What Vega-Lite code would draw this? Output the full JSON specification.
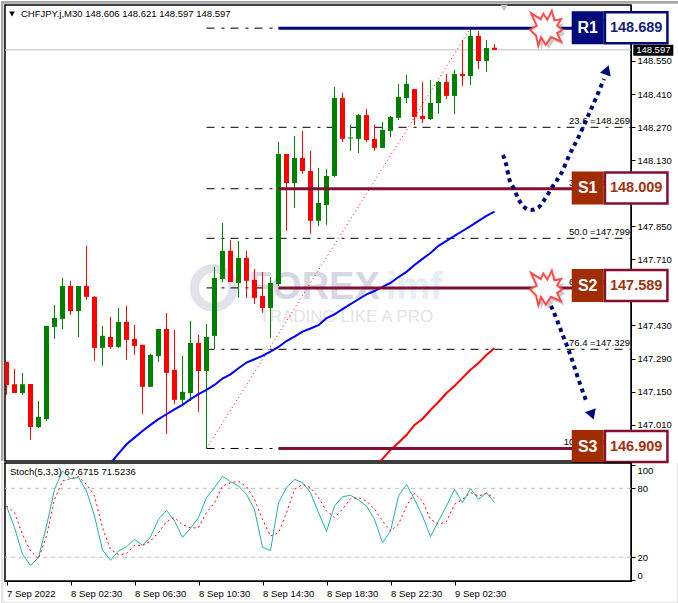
{
  "$schema": "https://vega.github.io/schema/vega-lite/v6.json",
  "description": "CHFJPY.j M30 candles with fibonacci levels, support and resistance boxes and a stochastic panel",
  "background": "#ffffff",
  "padding": 0,
  "spacing": 2,
  "bounds": "flush",
  "config": {
    "view": {"stroke": "#000000", "strokeWidth": 1.5},
    "font": "Liberation Sans",
    "scale": {"continuousPadding": 0},
    "axis": {"labelFont": "Liberation Sans", "labelFontSize": 9.5, "labelColor": "#000000", "domainColor": "#000000", "tickColor": "#000000", "grid": false, "title": null}
  },
  "datasets": {
    "candles": [
      {"bar":0,"open":147.276,"high":147.276,"low":147.136,"close":147.178},
      {"bar":1,"open":147.181,"high":147.246,"low":147.144,"close":147.144},
      {"bar":2,"open":147.144,"high":147.229,"low":147.136,"close":147.181},
      {"bar":3,"open":147.182,"high":147.182,"low":146.945,"close":147.000},
      {"bar":4,"open":147.000,"high":147.110,"low":146.996,"close":147.043},
      {"bar":5,"open":147.034,"high":147.428,"low":147.026,"close":147.428},
      {"bar":6,"open":147.424,"high":147.517,"low":147.373,"close":147.462},
      {"bar":7,"open":147.458,"high":147.631,"low":147.415,"close":147.597},
      {"bar":8,"open":147.597,"high":147.619,"low":147.475,"close":147.491},
      {"bar":9,"open":147.491,"high":147.597,"low":147.381,"close":147.597},
      {"bar":10,"open":147.597,"high":147.767,"low":147.538,"close":147.551},
      {"bar":11,"open":147.551,"high":147.555,"low":147.280,"close":147.335},
      {"bar":12,"open":147.335,"high":147.428,"low":147.259,"close":147.386},
      {"bar":13,"open":147.381,"high":147.466,"low":147.331,"close":147.339},
      {"bar":14,"open":147.339,"high":147.504,"low":147.335,"close":147.445},
      {"bar":15,"open":147.445,"high":147.513,"low":147.284,"close":147.369},
      {"bar":16,"open":147.373,"high":147.432,"low":147.305,"close":147.343},
      {"bar":17,"open":147.348,"high":147.348,"low":147.055,"close":147.170},
      {"bar":18,"open":147.170,"high":147.309,"low":147.170,"close":147.305},
      {"bar":19,"open":147.301,"high":147.415,"low":147.276,"close":147.415},
      {"bar":20,"open":147.415,"high":147.483,"low":146.971,"close":147.229},
      {"bar":21,"open":147.242,"high":147.411,"low":147.098,"close":147.115},
      {"bar":22,"open":147.115,"high":147.301,"low":147.094,"close":147.149},
      {"bar":23,"open":147.144,"high":147.449,"low":147.110,"close":147.356},
      {"bar":24,"open":147.356,"high":147.390,"low":147.064,"close":147.237},
      {"bar":25,"open":147.237,"high":147.436,"low":146.909,"close":147.381},
      {"bar":26,"open":147.386,"high":147.678,"low":147.331,"close":147.631},
      {"bar":27,"open":147.627,"high":147.864,"low":147.614,"close":147.746},
      {"bar":28,"open":147.746,"high":147.792,"low":147.614,"close":147.614},
      {"bar":29,"open":147.610,"high":147.788,"low":147.547,"close":147.716},
      {"bar":30,"open":147.716,"high":147.746,"low":147.547,"close":147.619},
      {"bar":31,"open":147.623,"high":147.669,"low":147.521,"close":147.547},
      {"bar":32,"open":147.555,"high":147.657,"low":147.483,"close":147.504},
      {"bar":33,"open":147.504,"high":147.635,"low":147.377,"close":147.610},
      {"bar":34,"open":147.606,"high":148.207,"low":147.597,"close":148.156},
      {"bar":35,"open":148.156,"high":148.156,"low":147.830,"close":148.033},
      {"bar":36,"open":148.033,"high":148.232,"low":147.928,"close":148.139},
      {"bar":37,"open":148.139,"high":148.254,"low":148.072,"close":148.084},
      {"bar":38,"open":148.084,"high":148.169,"low":147.818,"close":147.873},
      {"bar":39,"open":147.873,"high":148.097,"low":147.851,"close":147.949},
      {"bar":40,"open":147.940,"high":148.093,"low":147.856,"close":148.063},
      {"bar":41,"open":148.063,"high":148.440,"low":148.059,"close":148.393},
      {"bar":42,"open":148.393,"high":148.415,"low":148.207,"close":148.220},
      {"bar":43,"open":148.222,"high":148.279,"low":148.169,"close":148.226},
      {"bar":44,"open":148.220,"high":148.326,"low":148.160,"close":148.321},
      {"bar":45,"open":148.321,"high":148.347,"low":148.207,"close":148.215},
      {"bar":46,"open":148.220,"high":148.279,"low":148.169,"close":148.182},
      {"bar":47,"open":148.182,"high":148.292,"low":148.182,"close":148.258},
      {"bar":48,"open":148.254,"high":148.317,"low":148.228,"close":148.313},
      {"bar":49,"open":148.309,"high":148.453,"low":148.300,"close":148.398},
      {"bar":50,"open":148.393,"high":148.491,"low":148.372,"close":148.453},
      {"bar":51,"open":148.431,"high":148.431,"low":148.279,"close":148.313},
      {"bar":52,"open":148.317,"high":148.461,"low":148.287,"close":148.304},
      {"bar":53,"open":148.304,"high":148.470,"low":148.300,"close":148.372},
      {"bar":54,"open":148.372,"high":148.465,"low":148.326,"close":148.461},
      {"bar":55,"open":148.461,"high":148.495,"low":148.389,"close":148.402},
      {"bar":56,"open":148.402,"high":148.512,"low":148.326,"close":148.495},
      {"bar":57,"open":148.495,"high":148.639,"low":148.444,"close":148.486},
      {"bar":58,"open":148.486,"high":148.689,"low":148.448,"close":148.656},
      {"bar":59,"open":148.656,"high":148.677,"low":148.516,"close":148.550},
      {"bar":60,"open":148.550,"high":148.639,"low":148.503,"close":148.605},
      {"bar":61,"open":148.606,"high":148.621,"low":148.597,"close":148.597}
    ],
    "blueMa": [
      {"bar":13,"price":146.847},{"bar":14,"price":146.887},{"bar":15,"price":146.927},{"bar":16,"price":146.955},
      {"bar":17,"price":146.983},{"bar":18,"price":147.009},{"bar":19,"price":147.033},{"bar":20,"price":147.054},
      {"bar":21,"price":147.075},{"bar":22,"price":147.094},{"bar":23,"price":147.118},{"bar":24,"price":147.139},
      {"bar":25,"price":147.157},{"bar":26,"price":147.178},{"bar":27,"price":147.205},{"bar":28,"price":147.223},
      {"bar":29,"price":147.249},{"bar":30,"price":147.273},{"bar":31,"price":147.287},{"bar":32,"price":147.301},
      {"bar":33,"price":147.319},{"bar":34,"price":147.339},{"bar":35,"price":147.364},{"bar":36,"price":147.383},
      {"bar":37,"price":147.404},{"bar":38,"price":147.417},{"bar":39,"price":147.431},{"bar":40,"price":147.461},
      {"bar":41,"price":147.477},{"bar":42,"price":147.499},{"bar":43,"price":147.520},{"bar":44,"price":147.541},
      {"bar":45,"price":147.562},{"bar":46,"price":147.576},{"bar":47,"price":147.593},{"bar":48,"price":147.610},
      {"bar":49,"price":147.635},{"bar":50,"price":147.657},{"bar":51,"price":147.686},{"bar":52,"price":147.712},
      {"bar":53,"price":147.737},{"bar":54,"price":147.767},{"bar":55,"price":147.788},{"bar":56,"price":147.809},
      {"bar":57,"price":147.830},{"bar":58,"price":147.851},{"bar":59,"price":147.873},{"bar":60,"price":147.894},
      {"bar":61,"price":147.912}
    ],
    "redMa": [
      {"bar":46,"price":146.835},{"bar":47,"price":146.865},{"bar":48,"price":146.903},{"bar":49,"price":146.933},
      {"bar":50,"price":146.966},{"bar":51,"price":147.009},{"bar":52,"price":147.034},{"bar":53,"price":147.072},
      {"bar":54,"price":147.106},{"bar":55,"price":147.144},{"bar":56,"price":147.174},{"bar":57,"price":147.208},
      {"bar":58,"price":147.242},{"bar":59,"price":147.271},{"bar":60,"price":147.305},{"bar":61,"price":147.335}
    ],
    "fib": [
      {"note":"0.0 =148.689","price":148.689,"from":25,"to":78.0625,"noteBar":77.94},
      {"note":"23.6 =148.269","price":148.269,"from":25,"to":78.0625,"noteBar":77.94},
      {"note":"38.2 =148.009","price":148.009,"from":25,"to":78.0625,"noteBar":77.94},
      {"note":"50.0 =147.799","price":147.799,"from":25,"to":78.0625,"noteBar":77.94},
      {"note":"61.8 =147.589","price":147.589,"from":25,"to":78.0625,"noteBar":77.94},
      {"note":"76.4 =147.329","price":147.329,"from":25,"to":78.0625,"noteBar":77.94},
      {"note":"100.0 =146.909","price":146.909,"from":25,"to":78.0625,"noteBar":77.94}
    ],
    "fibTrend": [{"bar":25,"price":146.909},{"bar":58,"price":148.689}],
    "levels": [
      {"name":"R1","kind":"resistance","price":148.689,"boxPrice":148.691,"value":"148.689","from":34,"to":72,"nameBar":72.65,"valueBar":78.71},
      {"name":"S1","kind":"support","price":148.009,"boxPrice":148.012,"value":"148.009","from":34,"to":72,"nameBar":72.65,"valueBar":78.71},
      {"name":"S2","kind":"support","price":147.589,"boxPrice":147.599,"value":"147.589","from":34,"to":72,"nameBar":72.65,"valueBar":78.71},
      {"name":"S3","kind":"support","price":146.909,"boxPrice":146.917,"value":"146.909","from":34,"to":72,"nameBar":72.65,"valueBar":78.71}
    ],
    "bursts": [{"bar":67.4,"price":148.689},{"bar":67.4,"price":147.589}],
    "arrowUp": [
      {"bar":62.06,"price":148.152},{"bar":62.44,"price":148.114},{"bar":62.81,"price":148.055},{"bar":63.44,"price":148.008},
      {"bar":64.06,"price":147.961},{"bar":64.69,"price":147.932},{"bar":65.56,"price":147.919},{"bar":66.44,"price":147.928},
      {"bar":67.31,"price":147.966},{"bar":68.31,"price":148.021},{"bar":69.31,"price":148.072},{"bar":70.31,"price":148.148},
      {"bar":71.56,"price":148.232},{"bar":72.69,"price":148.317},{"bar":73.69,"price":148.393},{"bar":74.69,"price":148.474}
    ],
    "arrowDown": [
      {"bar":68.06,"price":147.513},{"bar":68.81,"price":147.453},{"bar":69.56,"price":147.386},{"bar":70.31,"price":147.322},
      {"bar":70.94,"price":147.259},{"bar":71.56,"price":147.195},{"bar":72.56,"price":147.102}
    ],
    "stoch": [
      {"bar":0,"main":64.6,"signal":64.6},{"bar":1,"main":45.8,"signal":58.8},{"bar":2,"main":22.6,"signal":40.0},{"bar":3,"main":13.0,"signal":25.5},
      {"bar":4,"main":19.7,"signal":18.8},{"bar":5,"main":47.2,"signal":38.5},{"bar":6,"main":79.1,"signal":70.4},{"bar":7,"main":95.1,"signal":86.4},
      {"bar":8,"main":88.4,"signal":88.4},{"bar":9,"main":89.3,"signal":90.1},{"bar":10,"main":77.7,"signal":83.4},{"bar":11,"main":55.9,"signal":73.3},
      {"bar":12,"main":26.3,"signal":45.8},{"bar":13,"main":17.4,"signal":26.9},{"bar":14,"main":25.5,"signal":22.3},{"bar":15,"main":29.2,"signal":23.2},
      {"bar":16,"main":35.6,"signal":30.4},{"bar":17,"main":30.4,"signal":30.4},{"bar":18,"main":37.7,"signal":34.2},{"bar":19,"main":53.0,"signal":41.4},
      {"bar":20,"main":60.8,"signal":51.0},{"bar":21,"main":51.6,"signal":54.5},{"bar":22,"main":37.4,"signal":48.4},{"bar":23,"main":45.2,"signal":45.5},
      {"bar":24,"main":54.5,"signal":45.8},{"bar":25,"main":71.9,"signal":58.8},{"bar":26,"main":80.6,"signal":67.5},{"bar":27,"main":90.4,"signal":82.0},
      {"bar":28,"main":85.8,"signal":84.9},{"bar":29,"main":82.0,"signal":86.1},{"bar":30,"main":74.8,"signal":81.4},{"bar":31,"main":61.7,"signal":70.4},
      {"bar":32,"main":28.7,"signal":53.0},{"bar":33,"main":25.8,"signal":38.5},{"bar":34,"main":67.5,"signal":41.4},{"bar":35,"main":80.6,"signal":58.8},
      {"bar":36,"main":87.8,"signal":79.1},{"bar":37,"main":84.9,"signal":83.4},{"bar":38,"main":76.2,"signal":80.6},{"bar":39,"main":58.8,"signal":71.9},
      {"bar":40,"main":42.6,"signal":60.3},{"bar":41,"main":64.6,"signal":54.5},{"bar":42,"main":72.7,"signal":61.7},{"bar":43,"main":73.9,"signal":71.0},
      {"bar":44,"main":69.8,"signal":71.9},{"bar":45,"main":64.6,"signal":69.0},{"bar":46,"main":53.0,"signal":61.7},{"bar":47,"main":32.7,"signal":51.6},
      {"bar":48,"main":42.9,"signal":42.9},{"bar":49,"main":73.3,"signal":48.7},{"bar":50,"main":83.4,"signal":64.6},{"bar":51,"main":70.4,"signal":75.6},
      {"bar":52,"main":55.9,"signal":69.0},{"bar":53,"main":38.0,"signal":53.0},{"bar":54,"main":51.6,"signal":48.7},{"bar":55,"main":64.6,"signal":51.0},
      {"bar":56,"main":79.1,"signal":66.1},{"bar":57,"main":67.5,"signal":70.4},{"bar":58,"main":79.7,"signal":76.2},{"bar":59,"main":70.4,"signal":73.3},
      {"bar":60,"main":76.2,"signal":75.6},{"bar":61,"main":67.67,"signal":71.52}
    ]
  },
  "vconcat": [
    {
      "width": 626,
      "height": 456,
      "resolve": {"axis": {"x": "independent", "y": "independent"}, "scale": {"color": "independent"}},
      "encoding": {
        "x": {"field": "bar", "type": "quantitative", "scale": {"domain": [-0.1875, 78.0625], "nice": false, "zero": false, "padding": 0}, "axis": null}
      },
      "layer": [
        {
          "data": {"values": [{"x0":-0.6875,"x1":-0.375,"top":148.804,"bottom":146.856},{"x0":-0.6875,"x1":84.0625,"top":148.804,"bottom":148.792}]},
          "mark": {"type": "rect", "color": "#a8a8a8"},
          "encoding": {
            "x": {"field": "x0", "type": "quantitative", "scale": {"domain": [-0.1875, 78.0625]}, "axis": null},
            "x2": {"field": "x1"},
            "y": {"field": "top", "type": "quantitative", "scale": {"domain": [146.856, 148.787], "nice": false, "zero": false, "padding": 0}, "axis": {"orient": "right", "values": [148.55,148.41,148.27,148.13,147.85,147.71,147.43,147.29,147.15,147.01], "format": ".3f", "tickSize": 4, "labelPadding": 2}},
            "y2": {"field": "bottom"}
          }
        },
        {
          "data": {"values": [{"bar":25.9,"price":147.589}]},
          "mark": {"type": "point", "shape": "circle", "size": 1500, "filled": false, "stroke": "#d6d7e2", "strokeWidth": 9},
          "encoding": {"y": {"field": "price", "type": "quantitative", "scale": {"domain": [146.856, 148.787]}, "axis": null}}
        },
        {
          "data": {"values": [{"bar":30.3,"price":147.588,"word":"FOREX"}]},
          "mark": {"type": "text", "font": "Liberation Sans", "fontWeight": "bold", "fontSize": 38, "align": "left", "color": "#d6d7e2"},
          "encoding": {"y": {"field": "price", "type": "quantitative", "scale": {"domain": [146.856, 148.787]}, "axis": null}, "text": {"field": "word"}}
        },
        {
          "data": {"values": [{"bar":47.4,"price":147.588,"word":"imf"}]},
          "mark": {"type": "text", "font": "Liberation Sans", "fontWeight": "bold", "fontSize": 38, "align": "left", "color": "#e6eef5"},
          "encoding": {"y": {"field": "price", "type": "quantitative", "scale": {"domain": [146.856, 148.787]}, "axis": null}, "text": {"field": "word"}}
        },
        {
          "data": {"values": [{"bar":31.6,"price":147.467,"word":"TRADING LIKE A PRO"}]},
          "mark": {"type": "text", "font": "Liberation Sans", "fontSize": 17, "align": "left", "color": "#e3e3e8"},
          "encoding": {"y": {"field": "price", "type": "quantitative", "scale": {"domain": [146.856, 148.787]}, "axis": null}, "text": {"field": "word"}}
        },
        {
          "data": {"values": [{"price":148.597}]},
          "mark": {"type": "rule", "color": "#c0c0c0", "strokeWidth": 1},
          "encoding": {"x": null, "y": {"field": "price", "type": "quantitative", "scale": {"domain": [146.856, 148.787]}, "axis": null}}
        },
        {
          "data": {"name": "fib"},
          "mark": {"type": "rule", "color": "#000000", "strokeWidth": 1, "strokeDash": [8, 7, 3, 6]},
          "encoding": {
            "x": {"field": "from", "type": "quantitative", "scale": {"domain": [-0.1875, 78.0625]}, "axis": null},
            "x2": {"field": "to"},
            "y": {"field": "price", "type": "quantitative", "scale": {"domain": [146.856, 148.787]}, "axis": null}
          }
        },
        {
          "data": {"name": "fib"},
          "mark": {"type": "text", "align": "right", "baseline": "bottom", "dy": -1, "fontSize": 9.5, "color": "#000000"},
          "encoding": {
            "x": {"field": "noteBar", "type": "quantitative", "scale": {"domain": [-0.1875, 78.0625]}, "axis": null},
            "y": {"field": "price", "type": "quantitative", "scale": {"domain": [146.856, 148.787]}, "axis": null},
            "text": {"field": "note"}
          }
        },
        {
          "data": {"name": "fibTrend"},
          "mark": {"type": "line", "color": "#ff0000", "strokeWidth": 1, "strokeDash": [1, 3]},
          "encoding": {"y": {"field": "price", "type": "quantitative", "scale": {"domain": [146.856, 148.787]}, "axis": null}}
        },
        {
          "data": {"name": "candles"},
          "mark": {"type": "rule", "strokeWidth": 1, "clip": true},
          "encoding": {
            "y": {"field": "high", "type": "quantitative", "scale": {"domain": [146.856, 148.787]}, "axis": null},
            "y2": {"field": "low"},
            "color": {"condition": {"test": "datum.close >= datum.open", "value": "#008000"}, "value": "#ff0000"}
          }
        },
        {
          "data": {"name": "candles"},
          "mark": {"type": "bar", "size": 5, "clip": true},
          "encoding": {
            "y": {"field": "open", "type": "quantitative", "scale": {"domain": [146.856, 148.787]}, "axis": null},
            "y2": {"field": "close"},
            "color": {"condition": {"test": "datum.close >= datum.open", "value": "#008000"}, "value": "#ff0000"}
          }
        },
        {
          "data": {"name": "blueMa"},
          "mark": {"type": "line", "color": "#0000ff", "strokeWidth": 2, "clip": true},
          "encoding": {"y": {"field": "price", "type": "quantitative", "scale": {"domain": [146.856, 148.787]}, "axis": null}}
        },
        {
          "data": {"name": "redMa"},
          "mark": {"type": "line", "color": "#ff0000", "strokeWidth": 2, "clip": true},
          "encoding": {"y": {"field": "price", "type": "quantitative", "scale": {"domain": [146.856, 148.787]}, "axis": null}}
        },
        {
          "data": {"name": "levels"},
          "mark": {"type": "rule", "strokeWidth": 3},
          "encoding": {
            "x": {"field": "from", "type": "quantitative", "scale": {"domain": [-0.1875, 78.0625]}, "axis": null},
            "x2": {"field": "to"},
            "y": {"field": "price", "type": "quantitative", "scale": {"domain": [146.856, 148.787]}, "axis": null},
            "color": {"field": "kind", "type": "nominal", "scale": {"domain": ["resistance", "support"], "range": ["#000a78", "#850f33"]}, "legend": null}
          }
        },
        {
          "data": {"name": "arrowUp"},
          "mark": {"type": "line", "color": "#000a78", "strokeWidth": 4, "strokeDash": [4, 4], "interpolate": "monotone"},
          "encoding": {"y": {"field": "price", "type": "quantitative", "scale": {"domain": [146.856, 148.787]}, "axis": null}}
        },
        {
          "data": {"name": "arrowDown"},
          "mark": {"type": "line", "color": "#000a78", "strokeWidth": 4, "strokeDash": [4, 4], "interpolate": "monotone"},
          "encoding": {"y": {"field": "price", "type": "quantitative", "scale": {"domain": [146.856, 148.787]}, "axis": null}}
        },
        {
          "data": {"values": [{"bar":75.06,"price":148.512}]},
          "mark": {"type": "point", "shape": "triangle-up", "filled": true, "size": 130, "angle": 20, "color": "#000a78", "opacity": 1},
          "encoding": {"y": {"field": "price", "type": "quantitative", "scale": {"domain": [146.856, 148.787]}, "axis": null}}
        },
        {
          "data": {"values": [{"bar":73.19,"price":147.051}]},
          "mark": {"type": "point", "shape": "triangle-up", "filled": true, "size": 130, "angle": 160, "color": "#000a78", "opacity": 1},
          "encoding": {"y": {"field": "price", "type": "quantitative", "scale": {"domain": [146.856, 148.787]}, "axis": null}}
        },
        {
          "data": {"name": "bursts"},
          "mark": {"type": "point", "filled": true, "color": "#777777", "opacity": 0.4, "xOffset": 3, "yOffset": 4, "size": 1024, "shape": "M-0.92,-0.94L-0.31,-0.56L-0.15,-0.9L0.1,-0.52L0.38,-1.08L0.54,-0.48L0.96,-0.56L0.71,-0.15L1.04,0.1L0.71,0.31L0.96,0.83L0.33,0.56L0,1.04L-0.29,0.56L-0.46,1.1L-0.6,0.48L-0.98,0.1L-0.56,-0.15Z"},
          "encoding": {"y": {"field": "price", "type": "quantitative", "scale": {"domain": [146.856, 148.787]}, "axis": null}}
        },
        {
          "data": {"name": "bursts"},
          "mark": {"type": "point", "filled": true, "fill": "#ffffff", "stroke": "#ff4b4b", "strokeWidth": 2, "opacity": 1, "size": 1024, "shape": "M-0.92,-0.94L-0.31,-0.56L-0.15,-0.9L0.1,-0.52L0.38,-1.08L0.54,-0.48L0.96,-0.56L0.71,-0.15L1.04,0.1L0.71,0.31L0.96,0.83L0.33,0.56L0,1.04L-0.29,0.56L-0.46,1.1L-0.6,0.48L-0.98,0.1L-0.56,-0.15Z"},
          "encoding": {"y": {"field": "price", "type": "quantitative", "scale": {"domain": [146.856, 148.787]}, "axis": null}}
        },
        {
          "data": {"name": "levels"},
          "mark": {"type": "rect", "width": 62.5, "height": 31, "fill": "#ffffff", "strokeWidth": 2.5},
          "encoding": {
            "x": {"field": "valueBar", "type": "quantitative", "scale": {"domain": [-0.1875, 78.0625]}, "axis": null},
            "y": {"field": "boxPrice", "type": "quantitative", "scale": {"domain": [146.856, 148.787]}, "axis": null},
            "stroke": {"field": "kind", "type": "nominal", "scale": {"domain": ["resistance", "support"], "range": ["#000a78", "#850f33"]}, "legend": null}
          }
        },
        {
          "data": {"name": "levels"},
          "mark": {"type": "rect", "width": 32, "height": 33},
          "encoding": {
            "x": {"field": "nameBar", "type": "quantitative", "scale": {"domain": [-0.1875, 78.0625]}, "axis": null},
            "y": {"field": "boxPrice", "type": "quantitative", "scale": {"domain": [146.856, 148.787]}, "axis": null},
            "fill": {"field": "kind", "type": "nominal", "scale": {"domain": ["resistance", "support"], "range": ["#000a78", "#a02c00"]}, "legend": null}
          }
        },
        {
          "data": {"name": "levels"},
          "mark": {"type": "text", "font": "Liberation Sans", "fontWeight": "bold", "fontSize": 16, "color": "#ffffff"},
          "encoding": {
            "x": {"field": "nameBar", "type": "quantitative", "scale": {"domain": [-0.1875, 78.0625]}, "axis": null},
            "y": {"field": "boxPrice", "type": "quantitative", "scale": {"domain": [146.856, 148.787]}, "axis": null},
            "text": {"field": "name"}
          }
        },
        {
          "data": {"name": "levels"},
          "mark": {"type": "text", "font": "Liberation Sans", "fontWeight": "bold", "fontSize": 14.5},
          "encoding": {
            "x": {"field": "valueBar", "type": "quantitative", "scale": {"domain": [-0.1875, 78.0625]}, "axis": null},
            "y": {"field": "boxPrice", "type": "quantitative", "scale": {"domain": [146.856, 148.787]}, "axis": null},
            "text": {"field": "value"},
            "color": {"field": "kind", "type": "nominal", "scale": {"domain": ["resistance", "support"], "range": ["#151f7a", "#a0320f"]}, "legend": null}
          }
        },
        {
          "data": {"values": [{"bar":80.85,"price":148.595}]},
          "mark": {"type": "rect", "width": 40, "height": 11, "color": "#000000"},
          "encoding": {"y": {"field": "price", "type": "quantitative", "scale": {"domain": [146.856, 148.787]}, "axis": null}}
        },
        {
          "data": {"values": [{"bar":80.85,"price":148.595,"note":"148.597"}]},
          "mark": {"type": "text", "fontSize": 9.5, "color": "#ffffff"},
          "encoding": {"y": {"field": "price", "type": "quantitative", "scale": {"domain": [146.856, 148.787]}, "axis": null}, "text": {"field": "note"}}
        },
        {
          "data": {"values": [{"bar":1.81,"price":148.749,"note":"CHFJPY.j,M30  148.606 148.621 148.597 148.597"}]},
          "mark": {"type": "text", "align": "left", "fontSize": 9.5, "color": "#000000"},
          "encoding": {"y": {"field": "price", "type": "quantitative", "scale": {"domain": [146.856, 148.787]}, "axis": null}, "text": {"field": "note"}}
        },
        {
          "data": {"values": [{"bar":0.69,"price":148.749}]},
          "mark": {"type": "point", "shape": "triangle-down", "filled": true, "size": 32, "color": "#000000", "opacity": 1},
          "encoding": {"y": {"field": "price", "type": "quantitative", "scale": {"domain": [146.856, 148.787]}, "axis": null}}
        },
        {
          "data": {"values": [{"bar":62.19,"price":148.774}]},
          "mark": {"type": "point", "shape": "triangle-down", "filled": true, "size": 55, "color": "#c0c0c0", "opacity": 1},
          "encoding": {"y": {"field": "price", "type": "quantitative", "scale": {"domain": [146.856, 148.787]}, "axis": null}}
        }
      ]
    },
    {
      "width": 626,
      "height": 118,
      "resolve": {"axis": {"x": "independent", "y": "independent"}},
      "encoding": {
        "x": {"field": "bar", "type": "quantitative", "scale": {"domain": [-0.1875, 78.0625], "nice": false, "zero": false, "padding": 0}, "axis": null}
      },
      "layer": [
        {
          "data": {"values": [{"level":80},{"level":20}]},
          "mark": {"type": "rule", "color": "#c0c0c0", "strokeWidth": 1, "strokeDash": [4, 4]},
          "encoding": {
            "x": null,
            "y": {"field": "level", "type": "quantitative", "scale": {"domain": [-0.6, 102], "nice": false, "zero": false, "padding": 0}, "axis": {"orient": "right", "values": [100, 80, 20, 0], "tickSize": 4, "labelPadding": 2, "labelBaseline": {"condition": [{"test": "datum.value == 100", "value": "top"}, {"test": "datum.value == 0", "value": "bottom"}], "value": "middle"}}}
          }
        },
        {
          "data": {"name": "stoch"},
          "mark": {"type": "line", "color": "#20b2aa", "strokeWidth": 1},
          "encoding": {
            "x": {"field": "bar", "type": "quantitative", "scale": {"domain": [-0.1875, 78.0625]}, "axis": {"values": [0, 8, 16, 24, 32, 40, 48, 56], "labelExpr": "['7 Sep 2022','8 Sep 02:30','8 Sep 06:30','8 Sep 10:30','8 Sep 14:30','8 Sep 18:30','8 Sep 22:30','9 Sep 02:30'][datum.value / 8]", "labelAlign": "left", "labelOverlap": false, "labelFlush": false, "labelPadding": 3, "tickSize": 4}},
            "y": {"field": "main", "type": "quantitative", "scale": {"domain": [-0.6, 102]}, "axis": null}
          }
        },
        {
          "data": {"name": "stoch"},
          "mark": {"type": "line", "color": "#ff0000", "strokeWidth": 1, "strokeDash": [2, 3]},
          "encoding": {"y": {"field": "signal", "type": "quantitative", "scale": {"domain": [-0.6, 102]}, "axis": null}}
        },
        {
          "data": {"values": [{"bar":0.44,"value":94.2,"note":"Stoch(5,3,3) 67.6715 71.5236"}]},
          "mark": {"type": "text", "align": "left", "fontSize": 9.5, "color": "#000000"},
          "encoding": {"y": {"field": "value", "type": "quantitative", "scale": {"domain": [-0.6, 102]}, "axis": null}, "text": {"field": "note"}}
        },
        {
          "data": {"values": [{"x0":-0.6875,"x1":-0.375,"top":102,"bottom":-20.6},{"x0":-0.6875,"x1":84.0625,"top":-18.9,"bottom":-20.6},{"x0":83.8,"x1":84.0625,"top":102,"bottom":-20.6}]},
          "mark": {"type": "rect", "color": "#e4e4e4"},
          "encoding": {
            "x": {"field": "x0", "type": "quantitative", "scale": {"domain": [-0.1875, 78.0625]}, "axis": null},
            "x2": {"field": "x1"},
            "y": {"field": "top", "type": "quantitative", "scale": {"domain": [-0.6, 102]}, "axis": null},
            "y2": {"field": "bottom"}
          }
        }
      ]
    }
  ]
}
